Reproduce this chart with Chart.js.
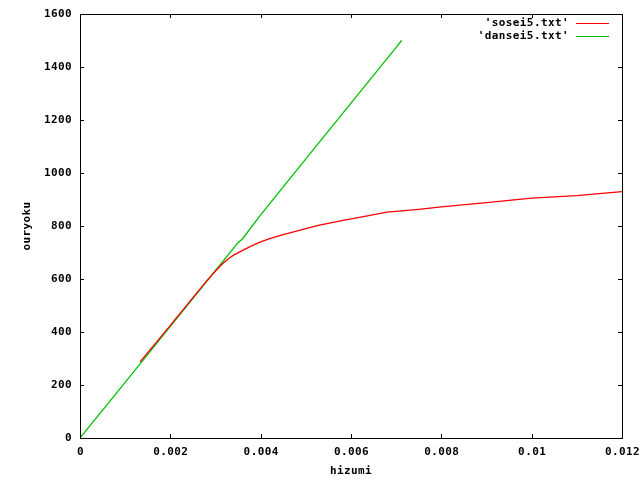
<!DOCTYPE html>
<html>
<head>
<meta charset="utf-8">
<script src="https://cdn.jsdelivr.net/npm/chart.js@4/dist/chart.umd.min.js"></script>
<style>
html,body{margin:0;padding:0;background:#fff;}
canvas{display:block;}
</style>
</head>
<body>
<canvas id="c" width="640" height="480"></canvas>
<script>
// ---- data ----
const soseiX = [0.00133,0.0015,0.002,0.0025,0.0028,0.003,0.0031,0.0032,0.0033,0.0034,0.0036,0.0038,0.0040,0.0042,0.0045,0.0050,0.0053,0.0058,0.0063,0.0068,0.0075,0.0080,0.0090,0.0095,0.0100,0.0110,0.0120];
const soseiY = [287,322,425,530,592,630,648,664,678,690,708,725,740,752,767,790,803,820,836,852,863,872,888,897,905,915,930];
const danseiX = [0,0.001,0.002,0.003,0.0035,0.0036,0.004,0.005,0.006,0.007,0.00712];
const danseiY = [0,210,421,632,737,752,842,1053,1264,1474,1500];
const xTicks = [0,0.002,0.004,0.006,0.008,0.01,0.012];
const xTickLabels = ['0','0.002','0.004','0.006','0.008','0.01','0.012'];
const yTicks = [0,200,400,600,800,1000,1200,1400,1600];
const seriesNames = ["'sosei5.txt'","'dansei5.txt'"];
const seriesColors = ['#ff0000', '#00c000'];
const xTitle = 'hizumi';
const yTitle = 'ouryoku';

const toPts = (xs, ys) => xs.map((x, i) => ({x: x, y: ys[i]}));
const FONT = 'bold 11px "DejaVu Sans Mono"';

const gnuPlugin = {
  id: 'gnu',
  afterDraw(chart) {
    const ctx = chart.ctx;
    const xs = chart.scales.x, ys = chart.scales.y;
    const a = chart.chartArea;
    ctx.save();
    ctx.strokeStyle = '#000';
    ctx.lineWidth = 1;
    ctx.strokeRect(Math.round(a.left) + 0.5, Math.round(a.top) + 0.5,
                   Math.round(a.right - a.left), Math.round(a.bottom - a.top));
    const L = 4;
    ctx.beginPath();
    xTicks.forEach(v => {
      const px = Math.round(xs.getPixelForValue(v)) + 0.5;
      ctx.moveTo(px, a.bottom); ctx.lineTo(px, a.bottom - L);
      ctx.moveTo(px, a.top); ctx.lineTo(px, a.top + L);
    });
    yTicks.forEach(v => {
      const py = Math.round(ys.getPixelForValue(v)) + 0.5;
      ctx.moveTo(a.left, py); ctx.lineTo(a.left + L, py);
      ctx.moveTo(a.right, py); ctx.lineTo(a.right - L, py);
    });
    ctx.stroke();
    ctx.fillStyle = '#000';
    ctx.font = FONT;
    try { ctx.letterSpacing = '0.4px'; } catch (e) {}
    ctx.textBaseline = 'middle';
    ctx.textAlign = 'right';
    yTicks.forEach(v => {
      ctx.fillText(String(v), 72, ys.getPixelForValue(v) + 0.5);
    });
    ctx.textAlign = 'center';
    xTicks.forEach((v, i) => {
      ctx.fillText(xTickLabels[i], xs.getPixelForValue(v) + 0.5, 452);
    });
    ctx.fillText(xTitle, 351, 471);
    ctx.save();
    ctx.translate(27, 226);
    ctx.rotate(-Math.PI / 2);
    ctx.fillText(yTitle, 0, 0);
    ctx.restore();
    ctx.textAlign = 'right';
    const rowsY = [23, 36];
    seriesNames.forEach((name, i) => {
      ctx.fillStyle = '#000';
      ctx.fillText(name, 569, rowsY[i] + 0.5);
      ctx.fillStyle = seriesColors[i];
      ctx.fillRect(576, rowsY[i], 33, 1);
    });
    ctx.restore();
  }
};

new Chart(document.getElementById('c'), {
  type: 'scatter',
  data: {
    datasets: [
      {label: seriesNames[0], data: toPts(soseiX, soseiY), showLine: true, borderColor: seriesColors[0], backgroundColor: seriesColors[0], borderWidth: 1.3, pointRadius: 0, tension: 0},
      {label: seriesNames[1], data: toPts(danseiX, danseiY), showLine: true, borderColor: seriesColors[1], backgroundColor: seriesColors[1], borderWidth: 1.3, pointRadius: 0, tension: 0}
    ]
  },
  options: {
    responsive: false,
    animation: false,
    layout: {padding: {left: 80, top: 14, right: 18, bottom: 42}},
    plugins: {legend: {display: false}, tooltip: {enabled: false}},
    scales: {
      x: {type: 'linear', min: 0, max: 0.012, display: false},
      y: {type: 'linear', min: 0, max: 1600, display: false}
    }
  },
  plugins: [gnuPlugin]
});
</script>
</body>
</html>
